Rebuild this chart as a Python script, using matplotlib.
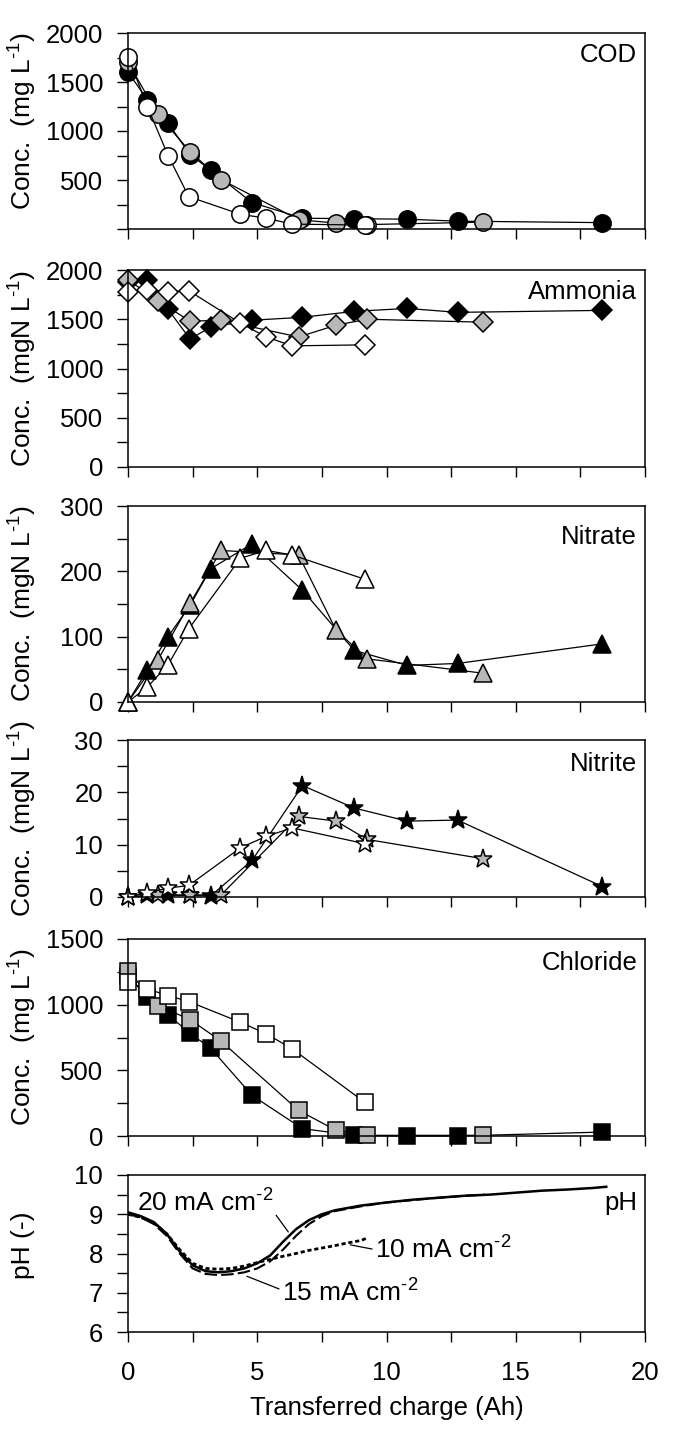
import matplotlib
matplotlib.use('Agg')
import matplotlib.pyplot as plt
from matplotlib.ticker import MultipleLocator

plt.rcParams['font.family'] = ['Liberation Sans', 'DejaVu Sans']
plt.rcParams['mathtext.fontset'] = 'custom'
plt.rcParams['mathtext.rm'] = 'Liberation Sans'
plt.rcParams['mathtext.it'] = 'Liberation Sans'

# sampling points (Ah) for the three runs
x_black = [0, 0.75, 1.55, 2.4, 3.2, 4.8, 6.75, 8.75, 10.8, 12.75, 18.35]
x_gray = [0, 1.15, 2.4, 3.6, 6.6, 8.05, 9.25, 13.75]
x_white = [0, 0.75, 1.55, 2.35, 4.35, 5.35, 6.35, 9.15]

cod_black = [1600, 1320, 1080, 760, 600, 270, 110, 105, 100, 80, 65]
cod_gray = [1700, 1170, 790, 505, 95, 60, 45, 70]
cod_white = [1760, 1250, 750, 330, 150, 110, 50, 40]

nh4_black = [1880, 1900, 1600, 1300, 1420, 1490, 1520, 1580, 1610, 1570, 1590]
nh4_gray = [1900, 1690, 1480, 1490, 1320, 1440, 1500, 1470]
nh4_white = [1780, 1800, 1780, 1790, 1460, 1320, 1230, 1240]

no3_black = [0, 49, 100, 148, 204, 242, 171, 79, 56, 59, 89]
no3_gray = [0, 64, 151, 232, 225, 110, 66, 44]
no3_white = [0, 23, 57, 112, 220, 232, 225, 188]

no2_black = [0, 0.3, 0.3, 0.3, 0.2, 7.0, 21.3, 17.0, 14.5, 14.7, 2.0]
no2_gray = [0, 0.4, 0.4, 0.4, 15.4, 14.5, 11.0, 7.3]
no2_white = [0, 0.8, 1.7, 2.2, 9.4, 11.6, 13.2, 10.2]

cl_black = [1220, 1057, 922, 782, 668, 309, 56, 5, 0, 0, 30]
cl_gray = [1259, 993, 887, 722, 195, 43, 5, 5]
cl_white = [1170, 1120, 1069, 1024, 866, 778, 664, 258]

# pH logs
ph20_x = [0, 0.5, 1.0, 1.5, 2.0, 2.5, 3.0, 3.5, 4.0, 4.5, 5.0, 5.5, 6.0, 6.5, 7.0, 7.5, 8.0,
          9.0, 10.0, 11.0, 12.0, 13.0, 14.0, 15.0, 16.0, 17.0, 18.0, 18.5]
ph20 = [9.05, 8.95, 8.8, 8.5, 8.05, 7.7, 7.55, 7.52, 7.55, 7.62, 7.75, 7.95, 8.3, 8.62, 8.85,
        9.0, 9.1, 9.22, 9.3, 9.37, 9.42, 9.47, 9.5, 9.55, 9.6, 9.63, 9.67, 9.7]
ph15_x = [0, 0.5, 1.0, 1.5, 2.0, 2.5, 3.0, 3.5, 4.0, 4.5, 5.0, 5.5, 6.0, 6.5, 7.0, 7.5, 8.0,
          9.0, 10.0, 11.0, 12.0, 13.0, 13.8]
ph15 = [9.0, 8.92, 8.75, 8.45, 8.0, 7.62, 7.48, 7.45, 7.47, 7.52, 7.62, 7.8, 8.1, 8.45, 8.75,
        8.95, 9.08, 9.2, 9.3, 9.36, 9.42, 9.47, 9.5]
ph10_x = [0, 0.5, 1.0, 1.5, 2.0, 2.5, 3.0, 3.5, 4.0, 4.5, 5.0, 5.5, 6.0, 6.5, 7.0, 7.5, 8.0,
          8.5, 9.0, 9.2]
ph10 = [9.0, 8.92, 8.78, 8.5, 8.1, 7.75, 7.62, 7.6, 7.62, 7.68, 7.77, 7.85, 7.93, 8.0, 8.08,
        8.14, 8.2, 8.27, 8.33, 8.38]

GRAY = '#b8b8b8'
FS = 18.5

fig = plt.figure(figsize=(6.78, 14.36), dpi=100)
L, W = 128/678, 517/678
H = 1436.0


def make_ax(top, bottom):
    ax = fig.add_axes([L, 1 - bottom/H, W, (bottom - top)/H])
    ax.set_xlim(0, 20)
    ax.xaxis.set_major_locator(MultipleLocator(5))
    ax.xaxis.set_minor_locator(MultipleLocator(2.5))
    ax.tick_params(axis='x', which='both', direction='out', length=7, width=1, labelsize=FS, pad=14)
    ax.tick_params(axis='y', which='both', direction='out', length=8, width=1, labelsize=FS, pad=10)
    for s in ax.spines.values():
        s.set_linewidth(1.1)
    return ax


def panel(ax, marker, ms, ys, name, yl, ymax, major, minor, ylab):
    for x, y, fc in [(x_black, ys[0], 'black'), (x_gray, ys[1], GRAY), (x_white, ys[2], 'white')]:
        ax.plot(x, y, color='black', lw=0.9, marker=marker, ms=ms, mfc=fc, mec='black',
                mew=1.1, clip_on=False)
    ax.set_ylim(0, ymax)
    ax.yaxis.set_major_locator(MultipleLocator(major))
    ax.yaxis.set_minor_locator(MultipleLocator(minor))
    ax.tick_params(labelbottom=False)
    ax.text(0.985, yl, name, transform=ax.transAxes, ha='right', va='center', fontsize=FS)
    ax.set_ylabel(ylab, fontsize=19)
    ax.yaxis.set_label_coords(-0.172, 0.5)


ax1 = make_ax(33, 229)
panel(ax1, 'o', 12.5, [cod_black, cod_gray, cod_white], 'COD', 0.89, 2000, 500, 250,
      r'Conc.  (mg L$^{\text{-1}}$)')
ax1.set_yticks([500, 1000, 1500, 2000])
ax1.yaxis.set_label_coords(-0.172, 0.55)

ax2 = make_ax(270, 467)
panel(ax2, 'D', 10.5, [nh4_black, nh4_gray, nh4_white], 'Ammonia', 0.89, 2000, 500, 250,
      r'Conc.  (mgN L$^{\text{-1}}$)')

ax3 = make_ax(506, 702)
panel(ax3, '^', 13, [no3_black, no3_gray, no3_white], 'Nitrate', 0.84, 300, 100, 50,
      r'Conc.  (mgN L$^{\text{-1}}$)')

ax4 = make_ax(740, 897)
panel(ax4, '*', 14, [no2_black, no2_gray, no2_white], 'Nitrite', 0.85, 30, 10, 5,
      r'Conc.  (mgN L$^{\text{-1}}$)')

ax5 = make_ax(939, 1136)
panel(ax5, 's', 11.5, [cl_black, cl_gray, cl_white], 'Chloride', 0.88, 1500, 500, 250,
      r'Conc.  (mg L$^{\text{-1}}$)')

ax6 = make_ax(1175, 1332)
ax6.plot(ph20_x, ph20, color='black', lw=1.8)
ax6.plot(ph15_x, ph15, color='black', lw=1.5, ls=(0, (6, 2)))
ax6.plot(ph10_x, ph10, color='black', lw=2.0, ls=(0, (1.5, 1)))
ax6.set_ylim(6, 10)
ax6.yaxis.set_major_locator(MultipleLocator(1))
ax6.yaxis.set_minor_locator(MultipleLocator(0.5))
ax6.set_ylabel('pH (-)', fontsize=19)
ax6.yaxis.set_label_coords(-0.18, 0.55)
ax6.set_xlabel('Transferred charge (Ah)', fontsize=FS, labelpad=8)
ax6.text(0.985, 0.82, 'pH', transform=ax6.transAxes, ha='right', va='center', fontsize=FS)
ax6.annotate(r'20 mA cm$^{\text{-2}}$', xy=(6.2, 8.55), xytext=(0.35, 9.28), fontsize=19,
             ha='left', va='center', arrowprops=dict(arrowstyle='-', color='black', lw=0.9,
                                                     shrinkA=0, shrinkB=0, relpos=(1, 0.2)))
ax6.annotate(r'10 mA cm$^{\text{-2}}$', xy=(8.6, 8.22), xytext=(9.55, 8.1), fontsize=19,
             ha='left', va='center', arrowprops=dict(arrowstyle='-', color='black', lw=0.9,
                                                     shrinkA=0, shrinkB=0, relpos=(0, 0.5)))
ax6.annotate(r'15 mA cm$^{\text{-2}}$', xy=(4.6, 7.42), xytext=(5.95, 7.0), fontsize=19,
             ha='left', va='center', arrowprops=dict(arrowstyle='-', color='black', lw=0.9,
                                                     shrinkA=0, shrinkB=0, relpos=(0, 0.6)))

plt.savefig('out.png', dpi=100)
